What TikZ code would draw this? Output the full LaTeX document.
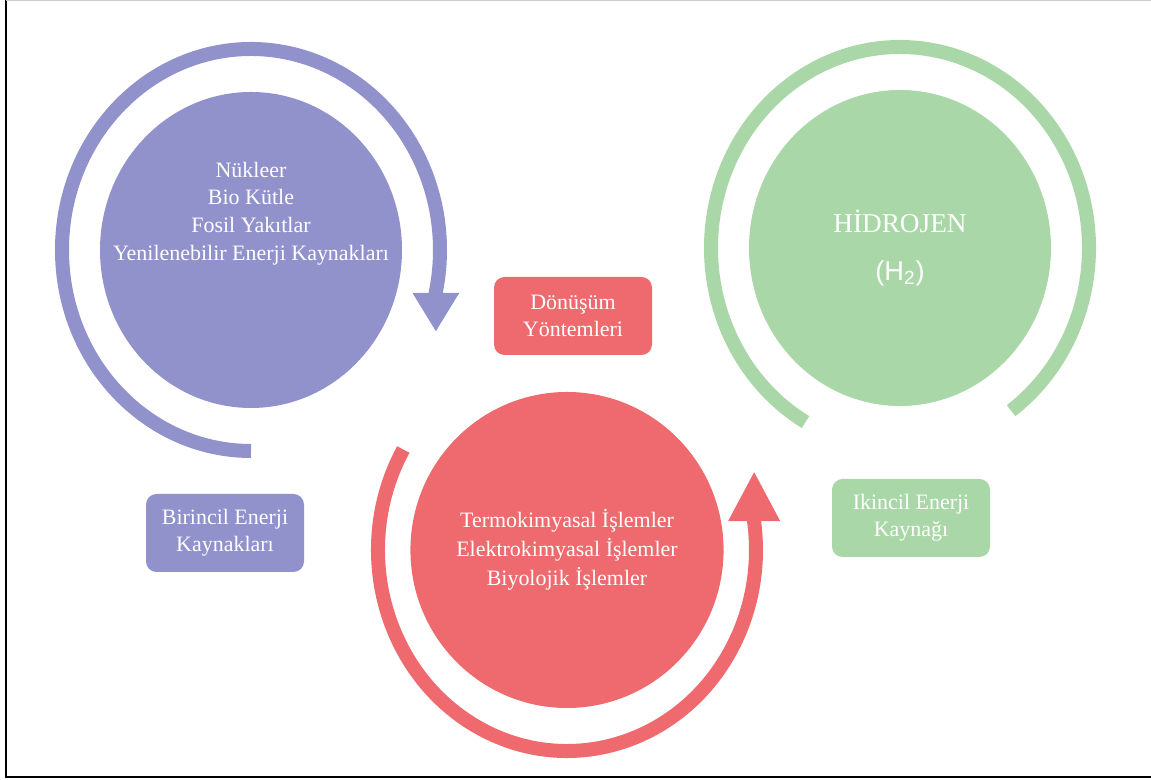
\documentclass[tikz,border=0pt]{standalone}
\usepackage{fontspec}
\setmainfont{Liberation Serif}
\setsansfont{Liberation Sans}
\usetikzlibrary{arrows.meta,shapes.geometric}
\definecolor{kaynakblue}{RGB}{145,145,203}
\definecolor{donusumred}{RGB}{238,106,110}
\definecolor{hidrojengreen}{RGB}{170,215,168}

\begin{document}
\begin{tikzpicture}[
    kaynakdisk/.style ={ellipse, inner sep=0pt, minimum width=6.04cm, minimum height=6.32cm, text=white, align=center, font=\fontsize{12.5}{16.5}\selectfont},
    etiket/.style ={rounded corners=6pt, inner sep=0pt, minimum width=3.16cm, minimum height=1.56cm, text=white, align=center, font=\fontsize{12.5}{15.5}\selectfont},
    halka/.style ={line width=0.28cm}]
   \useasboundingbox (0,0) rectangle (23.02,15.6);
   \draw[line width=0.04cm] (0.12,15.6) -- (0.12,0.06) -- (23.02,0.06);
   \draw[gray!40, line width=0.02cm] (0.12,15.59) -- (23.02,15.59);
   \node[kaynakdisk, fill=kaynakblue] (birincil) at (5.02,10.6) {};
   \node[kaynakdisk, fill=donusumred] (donusum) at (11.34,4.6) {Termokimyasal İşlemler\\Elektrokimyasal İşlemler\\Biyolojik İşlemler};
   \node[kaynakdisk, fill=hidrojengreen, font=\fontsize{15.5}{27}\selectfont] (hidrojen) at (18.0,10.64) {HİDROJEN\\{\sffamily (H\textsubscript{2})}};
   \node[text=white, align=center, font=\fontsize{12.5}{15.7}\selectfont] (birinciltext) at ([yshift=0.73cm]birincil.center) {Nükleer\\Bio Kütle\\Fosil Yakıtlar\\Yenilenebilir Enerji Kaynakları};
   \node[etiket, fill=kaynakblue] (birincilad) at (4.5,4.94) {Birincil Enerji\\Kaynakları};
   \node[etiket, fill=donusumred] (donusumad) at (11.46,9.28) {Dönüşüm\\Yöntemleri};
   \node[etiket, fill=hidrojengreen] (ikincilad) at (18.22,5.24) {Ikincil Enerji\\Kaynağı};
   \draw[halka, kaynakblue, -{Triangle[width=0.88cm,length=0.78cm]}] ([shift={(270:3.78 and 4.02)}]birincil.center) arc[start angle=270, end angle=-12, x radius=3.78, y radius=4.02] -- ++(0,-0.8);
   \draw[halka, donusumred, -{Triangle[width=0.96cm,length=1.0cm]}] ([shift={(150:3.78 and 4.02)}]donusum.center) arc[start angle=150, end angle=368, x radius=3.78, y radius=4.02] -- ++(0,1.02);
   \draw[halka, hidrojengreen] ([shift={(-54:3.78 and 4.02)}]hidrojen.center) arc[start angle=-54, end angle=240, x radius=3.78, y radius=4.02];
 \end{tikzpicture}
\end{document}
